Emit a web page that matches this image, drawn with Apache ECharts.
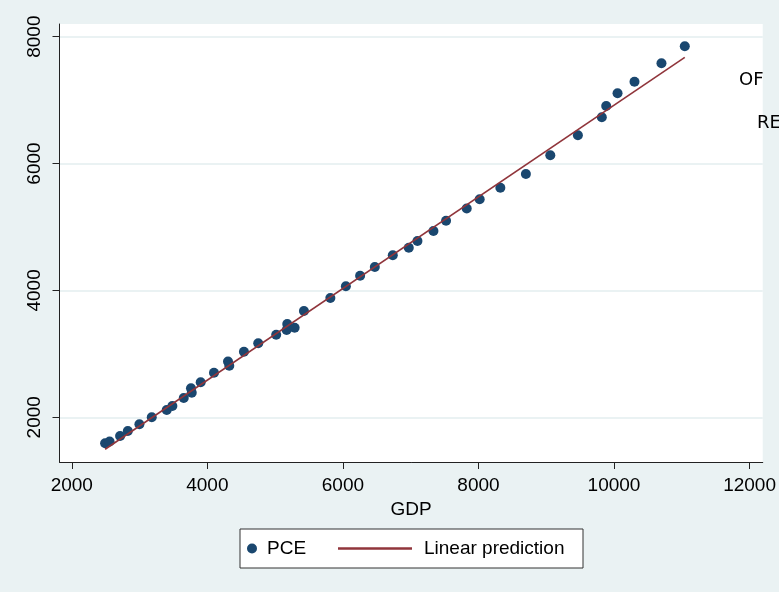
<!DOCTYPE html>
<html>
<head>
<meta charset="utf-8">
<script src="https://cdn.jsdelivr.net/npm/echarts@6/dist/echarts.min.js"></script>
<style>
html,body{margin:0;padding:0;background:#EAF2F3;}
#c{width:779px;height:592px;}
</style>
</head>
<body>
<div id="c"></div>
<script>
// GDP (x) and PCE (y)
const gdp = [2492, 2558, 2713, 2827, 2998, 3180, 3401, 3484, 3652, 3759, 3770, 3902, 4098, 4305, 4324,
  4540, 4751, 5016, 5179, 5170, 5288, 5425, 5815, 6044, 6254, 6471, 6736, 6972, 7100, 7336,
  7522, 7827, 8018, 8323, 8700, 9060, 9467, 9820, 9885, 10052, 10302, 10700, 11044];
const pce = [1590, 1619, 1705, 1784, 1890, 2000, 2115, 2178, 2304, 2457, 2388, 2552, 2703, 2880, 2813,
  3034, 3167, 3302, 3471, 3376, 3412, 3676, 3881, 4065, 4232, 4369, 4554, 4674, 4779, 4937,
  5099, 5292, 5437, 5619, 5835, 6130, 6445, 6729, 6907, 7108, 7290, 7580, 7848];
// fitted line end points
const fitX = [2492, 11044];
const fitY = [1496, 7675];
const xTicks = [2000, 4000, 6000, 8000, 10000, 12000];
const yTicks = [2000, 4000, 6000, 8000];

const FONT = 'Liberation Sans, Arial, sans-serif';
const plain = v => String(Math.round(v));
const chart = echarts.init(document.getElementById('c'), null, {renderer: 'canvas'});
chart.setOption({
  backgroundColor: '#EAF2F3',
  animation: false,
  grid: {left: 59.5, right: 15.5, top: 24, bottom: 130, show: true, backgroundColor: '#ffffff', borderWidth: 0},
  xAxis: {
    type: 'value', min: 1819, max: 12194,
    name: 'GDP', nameLocation: 'middle', nameGap: 36,
    nameTextStyle: {fontFamily: FONT, fontSize: 19, color: '#000'},
    axisLine: {show: true, lineStyle: {color: '#222', width: 1}},
    axisTick: {show: true, length: 7, customValues: xTicks, lineStyle: {color: '#222'}},
    axisLabel: {customValues: xTicks, formatter: plain, fontFamily: FONT, fontSize: 19, color: '#000', margin: 14},
    splitLine: {show: false}
  },
  yAxis: {
    type: 'value', min: 1295, max: 8200,
    axisLine: {show: true, lineStyle: {color: '#222', width: 1}},
    axisTick: {show: true, length: 7, customValues: yTicks, lineStyle: {color: '#222'}},
    axisLabel: {customValues: yTicks, formatter: plain, rotate: 90, fontFamily: FONT, fontSize: 19, color: '#000', margin: 15},
    splitLine: {show: true, lineStyle: {color: '#EAF2F3', width: 2}}
  },
  legend: [
    {data: ['PCE'], left: 247, top: 539, itemWidth: 10, itemHeight: 10, padding: 0,
     textStyle: {fontFamily: FONT, fontSize: 19, color: '#000', padding: [0, 0, 0, 5]}, z: 10},
    {data: [{name: 'Linear prediction', icon: 'rect', itemStyle: {color: '#90353B'}}], left: 338, top: 539, itemWidth: 74, itemHeight: 2.5, padding: 0,
     textStyle: {fontFamily: FONT, fontSize: 19, color: '#000', padding: [0, 0, 0, 7]}, z: 10}
  ],
  graphic: [
    {type: 'rect', left: 239.5, top: 528.5, z: 1,
     shape: {width: 343, height: 39}, style: {fill: '#fff', stroke: '#333', lineWidth: 1}},
    {type: 'text', left: 739, top: 71, z: 5, style: {text: 'OF', font: '18px DejaVu Sans', fill: '#000'}},
    {type: 'text', left: 757, top: 114, z: 5, style: {text: 'RE', font: '18px DejaVu Sans', fill: '#000'}}
  ],
  series: [
    {name: 'PCE', type: 'scatter', symbol: 'circle', symbolSize: 10,
     itemStyle: {color: '#1A476F', opacity: 1},
     data: gdp.map((g, i) => [g, pce[i]]), z: 3},
    {name: 'Linear prediction', type: 'line', symbol: 'none', showSymbol: false,
     lineStyle: {color: '#90353B', width: 1.6}, itemStyle: {color: '#90353B'},
     data: fitX.map((g, i) => [g, fitY[i]]), z: 4}
  ]
});
</script>
</body>
</html>
